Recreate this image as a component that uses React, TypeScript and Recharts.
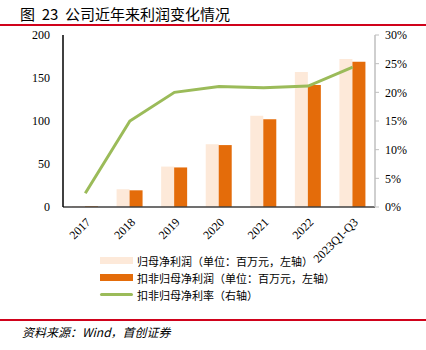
import React from "react";
import {
  ComposedChart,
  Bar,
  Line,
  XAxis,
  YAxis,
} from "recharts";

const years = ["2017", "2018", "2019", "2020", "2021", "2022", "2023Q1-Q3"];
const netProfit = [1, 20.6, 47, 73, 106, 157, 172];
const deductedProfit = [0.8, 19.4, 46, 72, 102, 142, 169];
const deductedMargin = [2.4, 15, 20, 21, 20.8, 21.1, 24.4];

const leftTicks = [0, 50, 100, 150, 200];
const rightTicks = [0, 5, 10, 15, 20, 25, 30];

const LIGHT = "#FDE9D9";
const DARK = "#E46C0A";
const GREEN = "#9BBB59";
const RED = "#D0021B";

const serif = "'Liberation Serif', 'Times New Roman', serif";
const cjk = "'Noto Sans CJK SC', sans-serif";

const data = years.map((y, i) => ({
  year: y,
  np: netProfit[i],
  dp: deductedProfit[i],
  margin: deductedMargin[i],
}));

const legendItems = [
  { label: "归母净利润（单位：百万元，左轴）", color: LIGHT, kind: "bar" },
  { label: "扣非归母净利润（单位：百万元，左轴）", color: DARK, kind: "bar" },
  { label: "扣非归母净利率（右轴）", color: GREEN, kind: "line" },
];

const App = () => {
  return (
    <div
      style={{
        position: "absolute",
        left: 0,
        top: 0,
        width: 426,
        height: 350,
        background: "#fff",
        overflow: "hidden",
      }}
    >
      <div
        style={{
          position: "absolute",
          left: 20,
          top: 3,
          fontFamily: cjk,
          fontSize: 15,
          color: "#000",
          whiteSpace: "pre",
        }}
      >
        图  23  公司近年来利润变化情况
      </div>
      <div
        style={{
          position: "absolute",
          left: 0,
          top: 24,
          width: 426,
          height: 2,
          background: RED,
        }}
      />

      <div style={{ position: "absolute", left: 0, top: 0 }}>
        <ComposedChart
          width={426}
          height={275}
          data={data}
          margin={{ top: 35, right: 0, left: 0, bottom: 15 }}
          barSize={13}
          barGap={0}
          style={{ overflow: "visible" }}
        >
          <XAxis
            dataKey="year"
            height={53}
            interval={0}
            axisLine={{ stroke: "#404040", strokeWidth: 1.5 }}
            tickLine={false}
            angle={-45}
            textAnchor="end"
            tickMargin={4}
            tick={{ fontFamily: serif, fontSize: 12, fill: "#000" }}
          />
          <YAxis
            yAxisId="left"
            width={63}
            domain={[0, 200]}
            ticks={leftTicks}
            axisLine={{ stroke: "#000", strokeWidth: 1.5 }}
            tickLine={false}
            tickSize={0}
            tickMargin={13}
            tick={{ fontFamily: serif, fontSize: 12, fill: "#000" }}
          />
          <YAxis
            yAxisId="right"
            orientation="right"
            width={51}
            domain={[0, 30]}
            ticks={rightTicks}
            tickFormatter={(v: number) => `${v}%`}
            axisLine={{ stroke: "#BFBFBF", strokeWidth: 1.5 }}
            tickLine={{ stroke: "#BFBFBF" }}
            tickSize={4}
            tickMargin={6}
            tick={{ fontFamily: serif, fontSize: 12, fill: "#000" }}
          />
          <Bar
            yAxisId="left"
            dataKey="np"
            fill={LIGHT}
            isAnimationActive={false}
          />
          <Bar
            yAxisId="left"
            dataKey="dp"
            fill={DARK}
            isAnimationActive={false}
          />
          <Line
            yAxisId="right"
            type="linear"
            dataKey="margin"
            stroke={GREEN}
            strokeWidth={3}
            dot={false}
            isAnimationActive={false}
          />
        </ComposedChart>
      </div>

      <div style={{ position: "absolute", left: 100, top: 252 }}>
        {legendItems.map((item) => (
          <div
            key={item.label}
            style={{ display: "flex", alignItems: "center", height: 17 }}
          >
            <div
              style={{
                width: 33,
                height: item.kind === "bar" ? 7 : 3,
                background: item.color,
                borderRadius: item.kind === "line" ? 2 : 0,
                marginRight: 4,
              }}
            />
            <span
              style={{
                fontFamily: cjk,
                fontSize: 11,
                color: "#000",
                whiteSpace: "nowrap",
              }}
            >
              {item.label}
            </span>
          </div>
        ))}
      </div>

      <div
        style={{
          position: "absolute",
          left: 0,
          top: 319,
          width: 426,
          height: 2,
          background: RED,
        }}
      />
      <div
        style={{
          position: "absolute",
          left: 22,
          top: 323,
          fontFamily: cjk,
          fontSize: 12,
          fontStyle: "italic",
          color: "#000",
          whiteSpace: "nowrap",
        }}
      >
        资料来源：Wind，首创证券
      </div>
    </div>
  );
};

export default App;
